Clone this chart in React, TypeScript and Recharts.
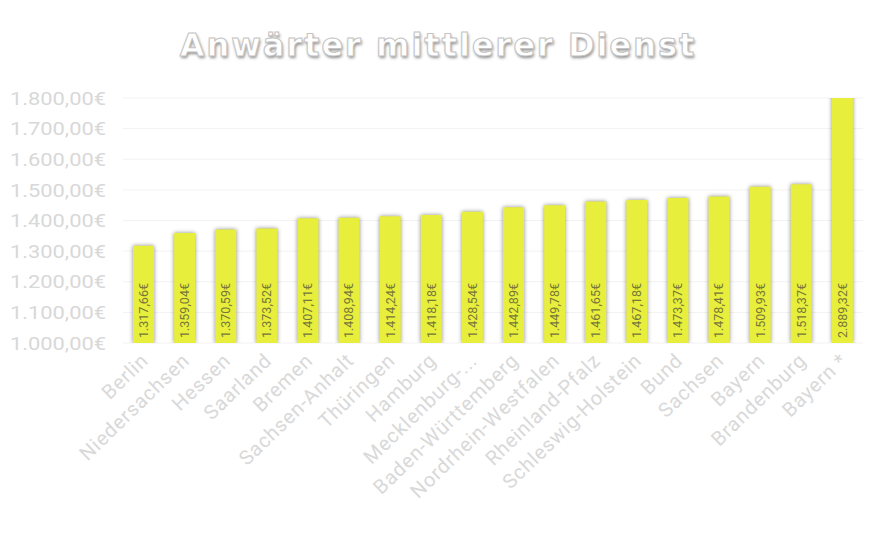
import { BarChart, Bar, XAxis, YAxis, CartesianGrid, LabelList } from 'recharts';

const categories = [
  'Berlin',
  'Niedersachsen',
  'Hessen',
  'Saarland',
  'Bremen',
  'Sachsen-Anhalt',
  'Thüringen',
  'Hamburg',
  'Mecklenburg-...',
  'Baden-Württemberg',
  'Nordrhein-Westfalen',
  'Rheinland-Pfalz',
  'Schleswig-Holstein',
  'Bund',
  'Sachsen',
  'Bayern',
  'Brandenburg',
  'Bayern *',
];

const salaries = [
  1317.66, 1359.04, 1370.59, 1373.52, 1407.11, 1408.94, 1414.24, 1418.18, 1428.54,
  1442.89, 1449.78, 1461.65, 1467.18, 1473.37, 1478.41, 1509.93, 1518.37, 2889.32,
];

const yTicks = [1000, 1100, 1200, 1300, 1400, 1500, 1600, 1700, 1800];

const data = categories.map((name, i) => ({ name, value: salaries[i] }));

function euro(v: number) {
  const [int, dec] = v.toFixed(2).split('.');
  return int.replace(/\B(?=(\d{3})+(?!\d))/g, '.') + ',' + dec + '€';
}

function YTick({ x, y, payload }: any) {
  return (
    <text
      transform={`translate(${x},${y}) scale(1.15,1)`}
      textAnchor="end"
      dy="0.35em"
      fill="#d8d8d8"
      fontSize={19}
      fontFamily="Roboto, sans-serif"
    >
      {euro(payload.value)}
    </text>
  );
}

function XTick({ x, y, payload }: any) {
  return (
    <text
      transform={`translate(${x + 6},${y + 11}) rotate(-44)`}
      textAnchor="end"
      fill="#d9d9d9"
      fontSize={20}
      letterSpacing={0.8}
      fontFamily="Roboto, sans-serif"
    >
      {payload.value}
    </text>
  );
}

function BarLabel({ x, y, width, height, value }: any) {
  const cx = x + width / 2;
  const bottom = y + height - 5;
  return (
    <text
      transform={`translate(${cx},${bottom}) rotate(-90)`}
      textAnchor="start"
      dy="0.35em"
      fill="#76763a"
      fontSize={12.5}
      fontFamily="Roboto, sans-serif"
    >
      {euro(value)}
    </text>
  );
}

export default function App() {
  return (
    <div style={{ position: 'absolute', left: 0, top: 0, width: 880, height: 540, background: '#fff' }}>
      <div
        style={{
          position: 'absolute',
          top: 26,
          left: -2,
          width: 880,
          textAlign: 'center',
          fontFamily: '"DejaVu Sans", sans-serif',
          fontWeight: 'bold',
          fontSize: 32,
          letterSpacing: 2,
          lineHeight: '38px',
          color: '#fff',
          WebkitTextStroke: '1px #c4c4c4',
          textShadow: '1px 2px 3px rgba(0,0,0,0.45)',
        }}
      >
        Anwärter mittlerer Dienst
      </div>
      <BarChart
        width={880}
        height={540}
        data={data}
        margin={{ top: 98, right: 17, bottom: 0, left: 3 }}
        barSize={21}
      >
        <CartesianGrid vertical={false} stroke="#f2f2f2" />
        <XAxis
          dataKey="name"
          interval={0}
          axisLine={false}
          tickLine={false}
          height={197}
          tick={<XTick />}
        />
        <YAxis
          domain={[1000, 1800]}
          ticks={yTicks}
          allowDataOverflow
          width={120}
          axisLine={false}
          tickLine={false}
          tickSize={0}
          tickMargin={17}
          tick={<YTick />}
        />
        <Bar
          dataKey="value"
          fill="#e8ee3c"
          isAnimationActive={false}
          style={{ filter: 'drop-shadow(0 0 2px rgba(0,0,0,0.45))' }}
        >
          <LabelList dataKey="value" content={<BarLabel />} />
        </Bar>
      </BarChart>
    </div>
  );
}
